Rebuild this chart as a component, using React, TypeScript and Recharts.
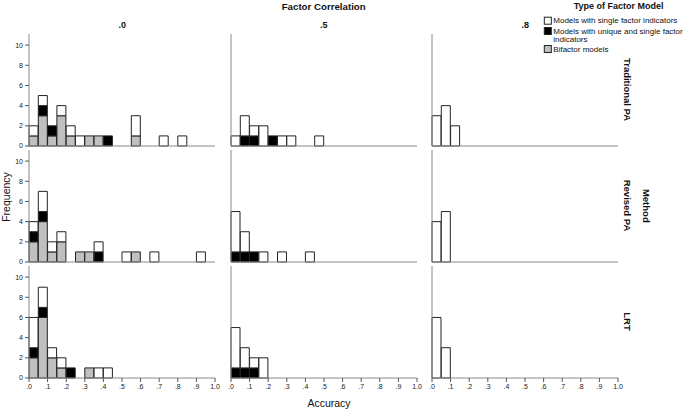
import { BarChart, Bar, XAxis, YAxis } from "recharts";

// accuracy bins (width .05), given by their midpoints
const BIN_MIDS = [
  0.025, 0.075, 0.125, 0.175, 0.225, 0.275, 0.325, 0.375, 0.425, 0.475,
  0.525, 0.575, 0.625, 0.675, 0.725, 0.775, 0.825, 0.875, 0.925, 0.975,
];
const ACC_TICKS = [0, 0.1, 0.2, 0.3, 0.4, 0.5, 0.6, 0.7, 0.8, 0.9, 1.0];
const FREQ_TICKS = [0, 2, 4, 6, 8, 10];
const CORRELATIONS = [".0", ".5", ".8"];
const METHODS = ["Traditional PA", "Revised PA", "LRT"];
const LEGEND_ITEMS = [
  ["Models with single factor indicators"],
  ["Models with unique and single factor", "indicators"],
  ["Bifactor models"],
];

// counts per bin: single = white, unique = black, bifactor = gray
const TRAD_00_SINGLE = [1, 1, 0, 1, 1, 1, 0, 0, 0, 0, 0, 2, 0, 0, 1, 0, 1, 0, 0, 0];
const TRAD_00_UNIQUE = [0, 1, 1, 0, 0, 0, 0, 0, 1, 0, 0, 0, 0, 0, 0, 0, 0, 0, 0, 0];
const TRAD_00_BIFACTOR = [1, 3, 1, 3, 1, 0, 1, 1, 0, 0, 0, 1, 0, 0, 0, 0, 0, 0, 0, 0];

const TRAD_05_SINGLE = [1, 2, 1, 2, 0, 1, 1, 0, 0, 1, 0, 0, 0, 0, 0, 0, 0, 0, 0, 0];
const TRAD_05_UNIQUE = [0, 1, 1, 0, 1, 0, 0, 0, 0, 0, 0, 0, 0, 0, 0, 0, 0, 0, 0, 0];
const TRAD_05_BIFACTOR = [0, 0, 0, 0, 0, 0, 0, 0, 0, 0, 0, 0, 0, 0, 0, 0, 0, 0, 0, 0];

const TRAD_08_SINGLE = [3, 4, 2, 0, 0, 0, 0, 0, 0, 0, 0, 0, 0, 0, 0, 0, 0, 0, 0, 0];
const TRAD_08_UNIQUE = [0, 0, 0, 0, 0, 0, 0, 0, 0, 0, 0, 0, 0, 0, 0, 0, 0, 0, 0, 0];
const TRAD_08_BIFACTOR = [0, 0, 0, 0, 0, 0, 0, 0, 0, 0, 0, 0, 0, 0, 0, 0, 0, 0, 0, 0];

const REV_00_SINGLE = [1, 2, 1, 1, 0, 0, 0, 1, 0, 0, 1, 0, 0, 1, 0, 0, 0, 0, 1, 0];
const REV_00_UNIQUE = [1, 1, 0, 0, 0, 0, 0, 1, 0, 0, 0, 0, 0, 0, 0, 0, 0, 0, 0, 0];
const REV_00_BIFACTOR = [2, 4, 1, 2, 0, 1, 1, 0, 0, 0, 0, 1, 0, 0, 0, 0, 0, 0, 0, 0];

const REV_05_SINGLE = [4, 2, 0, 1, 0, 1, 0, 0, 1, 0, 0, 0, 0, 0, 0, 0, 0, 0, 0, 0];
const REV_05_UNIQUE = [1, 1, 1, 0, 0, 0, 0, 0, 0, 0, 0, 0, 0, 0, 0, 0, 0, 0, 0, 0];
const REV_05_BIFACTOR = [0, 0, 0, 0, 0, 0, 0, 0, 0, 0, 0, 0, 0, 0, 0, 0, 0, 0, 0, 0];

const REV_08_SINGLE = [4, 5, 0, 0, 0, 0, 0, 0, 0, 0, 0, 0, 0, 0, 0, 0, 0, 0, 0, 0];
const REV_08_UNIQUE = [0, 0, 0, 0, 0, 0, 0, 0, 0, 0, 0, 0, 0, 0, 0, 0, 0, 0, 0, 0];
const REV_08_BIFACTOR = [0, 0, 0, 0, 0, 0, 0, 0, 0, 0, 0, 0, 0, 0, 0, 0, 0, 0, 0, 0];

const LRT_00_SINGLE = [3, 2, 1, 1, 0, 0, 0, 1, 1, 0, 0, 0, 0, 0, 0, 0, 0, 0, 0, 0];
const LRT_00_UNIQUE = [1, 1, 0, 0, 1, 0, 0, 0, 0, 0, 0, 0, 0, 0, 0, 0, 0, 0, 0, 0];
const LRT_00_BIFACTOR = [2, 6, 2, 1, 0, 0, 1, 0, 0, 0, 0, 0, 0, 0, 0, 0, 0, 0, 0, 0];

const LRT_05_SINGLE = [4, 2, 1, 2, 0, 0, 0, 0, 0, 0, 0, 0, 0, 0, 0, 0, 0, 0, 0, 0];
const LRT_05_UNIQUE = [1, 1, 1, 0, 0, 0, 0, 0, 0, 0, 0, 0, 0, 0, 0, 0, 0, 0, 0, 0];
const LRT_05_BIFACTOR = [0, 0, 0, 0, 0, 0, 0, 0, 0, 0, 0, 0, 0, 0, 0, 0, 0, 0, 0, 0];

const LRT_08_SINGLE = [6, 3, 0, 0, 0, 0, 0, 0, 0, 0, 0, 0, 0, 0, 0, 0, 0, 0, 0, 0];
const LRT_08_UNIQUE = [0, 0, 0, 0, 0, 0, 0, 0, 0, 0, 0, 0, 0, 0, 0, 0, 0, 0, 0, 0];
const LRT_08_BIFACTOR = [0, 0, 0, 0, 0, 0, 0, 0, 0, 0, 0, 0, 0, 0, 0, 0, 0, 0, 0, 0];

const PANELS = [
  [
    [TRAD_00_SINGLE, TRAD_00_UNIQUE, TRAD_00_BIFACTOR],
    [TRAD_05_SINGLE, TRAD_05_UNIQUE, TRAD_05_BIFACTOR],
    [TRAD_08_SINGLE, TRAD_08_UNIQUE, TRAD_08_BIFACTOR],
  ],
  [
    [REV_00_SINGLE, REV_00_UNIQUE, REV_00_BIFACTOR],
    [REV_05_SINGLE, REV_05_UNIQUE, REV_05_BIFACTOR],
    [REV_08_SINGLE, REV_08_UNIQUE, REV_08_BIFACTOR],
  ],
  [
    [LRT_00_SINGLE, LRT_00_UNIQUE, LRT_00_BIFACTOR],
    [LRT_05_SINGLE, LRT_05_UNIQUE, LRT_05_BIFACTOR],
    [LRT_08_SINGLE, LRT_08_UNIQUE, LRT_08_BIFACTOR],
  ],
];

const FONT = '"Liberation Sans", Arial, sans-serif';
const FILLS = ["#ffffff", "#000000", "#c0c0c0"];
const EDGE = "#222";
const AXIS = "#8a8a8a";

const PLOT_W = 186;
const PLOT_H = 112;
const Y_W = 30;
const X_H = 20;
const COL_X = [29.3, 230.8, 432.3];
const ROW_Y = [33.5, 149.5, 265.5];

const fmtAcc = (v: number) => (v >= 1 ? "1.0" : "." + Math.round(v * 10));

function Panel({ row, col }: { row: number; col: number }) {
  const [single, unique, bifactor] = PANELS[row][col];
  const data = BIN_MIDS.map((mid, i) => ({
    mid,
    single: single[i],
    unique: unique[i],
    bifactor: bifactor[i],
  }));
  const firstCol = col === 0;
  const lastRow = row === 2;

  return (
    <div style={{ position: "absolute", left: COL_X[col] - Y_W, top: ROW_Y[row] - 1 }}>
      <BarChart
        width={Y_W + PLOT_W + 6}
        height={PLOT_H + X_H + 1}
        data={data}
        margin={{ top: 1, right: 6, bottom: 0, left: 0 }}
        barCategoryGap={0}
        barGap={0}
      >
        <XAxis
          dataKey="mid"
          type="number"
          domain={[0, 1]}
          ticks={ACC_TICKS}
          tickFormatter={fmtAcc}
          interval={0}
          height={X_H}
          stroke={AXIS}
          tick={lastRow ? { fontSize: 7, fill: "#222", fontFamily: FONT } : false}
          tickLine={lastRow ? { stroke: "#555" } : false}
          tickSize={4}
          tickMargin={2}
        />
        <YAxis
          type="number"
          domain={[0, 11.1]}
          ticks={FREQ_TICKS}
          interval={0}
          width={Y_W}
          stroke={AXIS}
          tick={firstCol ? { fontSize: 7, fill: "#222", fontFamily: FONT } : false}
          tickLine={firstCol ? { stroke: "#555" } : false}
          tickSize={4}
          tickMargin={2}
        />
        <Bar dataKey="bifactor" stackId="a" fill={FILLS[2]} stroke={EDGE} strokeWidth={1} isAnimationActive={false} />
        <Bar dataKey="unique" stackId="a" fill={FILLS[1]} stroke={EDGE} strokeWidth={1} isAnimationActive={false} />
        <Bar dataKey="single" stackId="a" fill={FILLS[0]} stroke={EDGE} strokeWidth={1} isAnimationActive={false} />
      </BarChart>
    </div>
  );
}

export default function App() {
  const legendY = [20.7, 31, 49];
  return (
    <div
      style={{
        position: "fixed",
        left: 0,
        top: 0,
        width: 686,
        height: 410,
        background: "#fff",
        fontFamily: FONT,
      }}
    >
      {METHODS.map((_, r) =>
        CORRELATIONS.map((_, c) => <Panel key={`${r}-${c}`} row={r} col={c} />)
      )}
      <svg
        width={686}
        height={410}
        style={{ position: "absolute", left: 0, top: 0, pointerEvents: "none" }}
        fontFamily={FONT}
        fill="#111"
      >
        <text x={323.7} y={6} fontSize={9.7} fontWeight="bold" textAnchor="middle" dominantBaseline="central">
          Factor Correlation
        </text>
        {CORRELATIONS.map((c, i) => (
          <text key={c} x={COL_X[i] + PLOT_W / 2} y={25} fontSize={9} fontWeight="bold" textAnchor="middle" dominantBaseline="central">
            {c}
          </text>
        ))}
        <text x={618.7} y={6} fontSize={9} fontWeight="bold" textAnchor="middle" dominantBaseline="central">
          Type of Factor Model
        </text>
        {LEGEND_ITEMS.map((lines, i) => (
          <g key={i}>
            <rect x={544.3} y={legendY[i] - 3.5} width={7} height={7} fill={FILLS[i]} stroke={EDGE} strokeWidth={1} />
            {lines.map((ln, k) => (
              <text key={k} x={553.3} y={legendY[i] + k * 8} fontSize={8} dominantBaseline="central">
                {ln}
              </text>
            ))}
          </g>
        ))}
        {METHODS.map((m, i) => {
          const cy = ROW_Y[i] + PLOT_H / 2;
          return (
            <text key={m} x={627} y={cy} fontSize={9.5} fontWeight="bold" textAnchor="middle" dominantBaseline="central" transform={`rotate(90 627 ${cy})`}>
              {m}
            </text>
          );
        })}
        <text x={646} y={205.8} fontSize={9.5} fontWeight="bold" textAnchor="middle" dominantBaseline="central" transform="rotate(90 646 205.8)">
          Method
        </text>
        <text x={6} y={197} fontSize={10.5} textAnchor="middle" dominantBaseline="central" transform="rotate(-90 6 197)">
          Frequency
        </text>
        <text x={329} y={402.7} fontSize={10.5} textAnchor="middle" dominantBaseline="central">
          Accuracy
        </text>
      </svg>
    </div>
  );
}
